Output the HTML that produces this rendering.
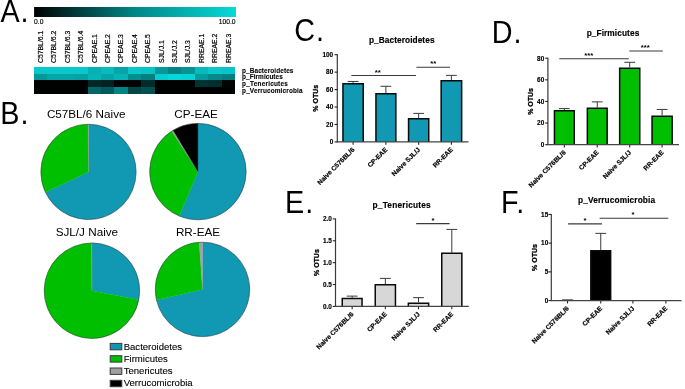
<!DOCTYPE html>
<html><head><meta charset="utf-8"><title>Figure</title>
<style>html,body{margin:0;padding:0;background:#fff}svg{display:block;will-change:transform}text{font-family:"Liberation Sans",sans-serif}</style>
</head><body>
<svg width="685" height="389" viewBox="0 0 685 389">
<rect width="685" height="389" fill="#fff"/>
<text transform="translate(0.4,21.5) scale(0.94,1)" letter-spacing="1.1" font-size="30.6" font-family="Liberation Sans, sans-serif" fill="#000">A.</text>
<text transform="translate(0.3,124.1) scale(0.94,1)" letter-spacing="1.1" font-size="30.6" font-family="Liberation Sans, sans-serif" fill="#000">B.</text>
<text transform="translate(294.2,40.7) scale(0.94,1)" letter-spacing="1.1" font-size="30.6" font-family="Liberation Sans, sans-serif" fill="#000">C.</text>
<text transform="translate(491.7,42.7) scale(0.94,1)" letter-spacing="1.1" font-size="30.6" font-family="Liberation Sans, sans-serif" fill="#000">D.</text>
<text transform="translate(285.1,212.9) scale(0.94,1)" letter-spacing="1.1" font-size="30.6" font-family="Liberation Sans, sans-serif" fill="#000">E.</text>
<text transform="translate(500.9,212.9) scale(0.94,1)" letter-spacing="1.1" font-size="30.6" font-family="Liberation Sans, sans-serif" fill="#000">F.</text>
<defs><linearGradient id="cb" x1="0" x2="1" y1="0" y2="0"><stop offset="0" stop-color="#000"/><stop offset="0.15" stop-color="rgb(0,42,42)"/><stop offset="0.5" stop-color="rgb(0,135,135)"/><stop offset="1" stop-color="rgb(5,218,215)"/></linearGradient></defs>
<rect x="34.1" y="7" width="201.9" height="10" fill="url(#cb)"/>
<text x="34.1" y="23.6" font-size="6.7" stroke="#000" stroke-width="0.15" font-family="Liberation Sans, sans-serif">0.0</text>
 <text x="235.6" y="23.6" font-size="6.7" stroke="#000" stroke-width="0.15" text-anchor="end" font-family="Liberation Sans, sans-serif">100.0</text>
<rect x="34.10" y="66.85" width="13.69" height="6.97" fill="rgb(8,200,203)" shape-rendering="crispEdges"/>
<rect x="47.49" y="66.85" width="13.69" height="6.97" fill="rgb(8,200,203)" shape-rendering="crispEdges"/>
<rect x="60.89" y="66.85" width="13.69" height="6.97" fill="rgb(8,200,203)" shape-rendering="crispEdges"/>
<rect x="74.28" y="66.85" width="13.69" height="6.97" fill="rgb(8,200,203)" shape-rendering="crispEdges"/>
<rect x="87.67" y="66.85" width="13.69" height="6.97" fill="rgb(7,176,178)" shape-rendering="crispEdges"/>
<rect x="101.07" y="66.85" width="13.69" height="6.97" fill="rgb(7,188,190)" shape-rendering="crispEdges"/>
<rect x="114.46" y="66.85" width="13.69" height="6.97" fill="rgb(6,166,168)" shape-rendering="crispEdges"/>
<rect x="127.85" y="66.85" width="13.69" height="6.97" fill="rgb(8,200,203)" shape-rendering="crispEdges"/>
<rect x="141.25" y="66.85" width="13.69" height="6.97" fill="rgb(8,196,198)" shape-rendering="crispEdges"/>
<rect x="154.64" y="66.85" width="13.69" height="6.97" fill="rgb(6,151,153)" shape-rendering="crispEdges"/>
<rect x="168.03" y="66.85" width="13.69" height="6.97" fill="rgb(5,132,133)" shape-rendering="crispEdges"/>
<rect x="181.43" y="66.85" width="13.69" height="6.97" fill="rgb(6,147,148)" shape-rendering="crispEdges"/>
<rect x="194.82" y="66.85" width="13.69" height="6.97" fill="rgb(7,186,188)" shape-rendering="crispEdges"/>
<rect x="208.21" y="66.85" width="13.69" height="6.97" fill="rgb(8,200,203)" shape-rendering="crispEdges"/>
<rect x="221.61" y="66.85" width="13.69" height="6.97" fill="rgb(8,196,198)" shape-rendering="crispEdges"/>
<rect x="34.10" y="73.52" width="13.69" height="6.97" fill="rgb(6,151,153)" shape-rendering="crispEdges"/>
<rect x="47.49" y="73.52" width="13.69" height="6.97" fill="rgb(6,166,168)" shape-rendering="crispEdges"/>
<rect x="60.89" y="73.52" width="13.69" height="6.97" fill="rgb(6,166,168)" shape-rendering="crispEdges"/>
<rect x="74.28" y="73.52" width="13.69" height="6.97" fill="rgb(6,161,163)" shape-rendering="crispEdges"/>
<rect x="87.67" y="73.52" width="13.69" height="6.97" fill="rgb(7,181,183)" shape-rendering="crispEdges"/>
<rect x="101.07" y="73.52" width="13.69" height="6.97" fill="rgb(6,166,168)" shape-rendering="crispEdges"/>
<rect x="114.46" y="73.52" width="13.69" height="6.97" fill="rgb(7,181,183)" shape-rendering="crispEdges"/>
<rect x="127.85" y="73.52" width="13.69" height="6.97" fill="rgb(5,142,143)" shape-rendering="crispEdges"/>
<rect x="141.25" y="73.52" width="13.69" height="6.97" fill="rgb(5,127,128)" shape-rendering="crispEdges"/>
<rect x="154.64" y="73.52" width="13.69" height="6.97" fill="rgb(8,205,208)" shape-rendering="crispEdges"/>
<rect x="168.03" y="73.52" width="13.69" height="6.97" fill="rgb(8,215,218)" shape-rendering="crispEdges"/>
<rect x="181.43" y="73.52" width="13.69" height="6.97" fill="rgb(8,210,213)" shape-rendering="crispEdges"/>
<rect x="194.82" y="73.52" width="13.69" height="6.97" fill="rgb(6,156,158)" shape-rendering="crispEdges"/>
<rect x="208.21" y="73.52" width="13.69" height="6.97" fill="rgb(5,137,138)" shape-rendering="crispEdges"/>
<rect x="221.61" y="73.52" width="13.69" height="6.97" fill="rgb(5,127,128)" shape-rendering="crispEdges"/>
<rect x="34.10" y="80.19" width="13.69" height="6.97" fill="rgb(0,2,2)" shape-rendering="crispEdges"/>
<rect x="47.49" y="80.19" width="13.69" height="6.97" fill="rgb(0,2,2)" shape-rendering="crispEdges"/>
<rect x="60.89" y="80.19" width="13.69" height="6.97" fill="rgb(0,2,2)" shape-rendering="crispEdges"/>
<rect x="74.28" y="80.19" width="13.69" height="6.97" fill="rgb(0,2,2)" shape-rendering="crispEdges"/>
<rect x="87.67" y="80.19" width="13.69" height="6.97" fill="rgb(1,39,39)" shape-rendering="crispEdges"/>
<rect x="101.07" y="80.19" width="13.69" height="6.97" fill="rgb(1,34,34)" shape-rendering="crispEdges"/>
<rect x="114.46" y="80.19" width="13.69" height="6.97" fill="rgb(0,4,4)" shape-rendering="crispEdges"/>
<rect x="127.85" y="80.19" width="13.69" height="6.97" fill="rgb(0,4,4)" shape-rendering="crispEdges"/>
<rect x="141.25" y="80.19" width="13.69" height="6.97" fill="rgb(1,44,44)" shape-rendering="crispEdges"/>
<rect x="154.64" y="80.19" width="13.69" height="6.97" fill="rgb(0,2,2)" shape-rendering="crispEdges"/>
<rect x="168.03" y="80.19" width="13.69" height="6.97" fill="rgb(0,2,2)" shape-rendering="crispEdges"/>
<rect x="181.43" y="80.19" width="13.69" height="6.97" fill="rgb(0,2,2)" shape-rendering="crispEdges"/>
<rect x="194.82" y="80.19" width="13.69" height="6.97" fill="rgb(2,51,52)" shape-rendering="crispEdges"/>
<rect x="208.21" y="80.19" width="13.69" height="6.97" fill="rgb(1,46,47)" shape-rendering="crispEdges"/>
<rect x="221.61" y="80.19" width="13.69" height="6.97" fill="rgb(0,4,4)" shape-rendering="crispEdges"/>
<rect x="34.10" y="86.86" width="13.69" height="6.97" fill="rgb(0,2,2)" shape-rendering="crispEdges"/>
<rect x="47.49" y="86.86" width="13.69" height="6.97" fill="rgb(0,2,2)" shape-rendering="crispEdges"/>
<rect x="60.89" y="86.86" width="13.69" height="6.97" fill="rgb(0,2,2)" shape-rendering="crispEdges"/>
<rect x="74.28" y="86.86" width="13.69" height="6.97" fill="rgb(0,2,2)" shape-rendering="crispEdges"/>
<rect x="87.67" y="86.86" width="13.69" height="6.97" fill="rgb(4,102,104)" shape-rendering="crispEdges"/>
<rect x="101.07" y="86.86" width="13.69" height="6.97" fill="rgb(3,88,89)" shape-rendering="crispEdges"/>
<rect x="114.46" y="86.86" width="13.69" height="6.97" fill="rgb(5,132,133)" shape-rendering="crispEdges"/>
<rect x="127.85" y="86.86" width="13.69" height="6.97" fill="rgb(2,71,71)" shape-rendering="crispEdges"/>
<rect x="141.25" y="86.86" width="13.69" height="6.97" fill="rgb(3,80,81)" shape-rendering="crispEdges"/>
<rect x="154.64" y="86.86" width="13.69" height="6.97" fill="rgb(0,2,2)" shape-rendering="crispEdges"/>
<rect x="168.03" y="86.86" width="13.69" height="6.97" fill="rgb(0,2,2)" shape-rendering="crispEdges"/>
<rect x="181.43" y="86.86" width="13.69" height="6.97" fill="rgb(0,2,2)" shape-rendering="crispEdges"/>
<rect x="194.82" y="86.86" width="13.69" height="6.97" fill="rgb(0,2,2)" shape-rendering="crispEdges"/>
<rect x="208.21" y="86.86" width="13.69" height="6.97" fill="rgb(0,2,2)" shape-rendering="crispEdges"/>
<rect x="221.61" y="86.86" width="13.69" height="6.97" fill="rgb(0,2,2)" shape-rendering="crispEdges"/>
<text transform="translate(43.10,63) rotate(-90)" font-size="6.85" stroke="#000" stroke-width="0.2" font-family="Liberation Sans, sans-serif">C57BL/6.1</text>
<text transform="translate(56.49,63) rotate(-90)" font-size="6.85" stroke="#000" stroke-width="0.2" font-family="Liberation Sans, sans-serif">C57BL/6.2</text>
<text transform="translate(69.88,63) rotate(-90)" font-size="6.85" stroke="#000" stroke-width="0.2" font-family="Liberation Sans, sans-serif">C57BL/6.3</text>
<text transform="translate(83.28,63) rotate(-90)" font-size="6.85" stroke="#000" stroke-width="0.2" font-family="Liberation Sans, sans-serif">C57BL/6.4</text>
<text transform="translate(96.67,63) rotate(-90)" font-size="6.85" stroke="#000" stroke-width="0.2" font-family="Liberation Sans, sans-serif">CPEAE.1</text>
<text transform="translate(110.06,63) rotate(-90)" font-size="6.85" stroke="#000" stroke-width="0.2" font-family="Liberation Sans, sans-serif">CPEAE.2</text>
<text transform="translate(123.46,63) rotate(-90)" font-size="6.85" stroke="#000" stroke-width="0.2" font-family="Liberation Sans, sans-serif">CPEAE.3</text>
<text transform="translate(136.85,63) rotate(-90)" font-size="6.85" stroke="#000" stroke-width="0.2" font-family="Liberation Sans, sans-serif">CPEAE.4</text>
<text transform="translate(150.24,63) rotate(-90)" font-size="6.85" stroke="#000" stroke-width="0.2" font-family="Liberation Sans, sans-serif">CPEAE.5</text>
<text transform="translate(163.64,63) rotate(-90)" font-size="6.85" stroke="#000" stroke-width="0.2" font-family="Liberation Sans, sans-serif">SJL/J.1</text>
<text transform="translate(177.03,63) rotate(-90)" font-size="6.85" stroke="#000" stroke-width="0.2" font-family="Liberation Sans, sans-serif">SJL/J.2</text>
<text transform="translate(190.42,63) rotate(-90)" font-size="6.85" stroke="#000" stroke-width="0.2" font-family="Liberation Sans, sans-serif">SJL/J.3</text>
<text transform="translate(203.82,63) rotate(-90)" font-size="6.85" stroke="#000" stroke-width="0.2" font-family="Liberation Sans, sans-serif">RREAE.1</text>
<text transform="translate(217.21,63) rotate(-90)" font-size="6.85" stroke="#000" stroke-width="0.2" font-family="Liberation Sans, sans-serif">RREAE.2</text>
<text transform="translate(230.60,63) rotate(-90)" font-size="6.85" stroke="#000" stroke-width="0.2" font-family="Liberation Sans, sans-serif">RREAE.3</text>
<text x="242.1" y="72.70" font-size="6.45" font-weight="bold" stroke="#000" stroke-width="0.1" textLength="51.3" lengthAdjust="spacing" font-family="Liberation Sans, sans-serif">p_Bacteroidetes</text>
<text x="242.1" y="79.43" font-size="6.45" font-weight="bold" stroke="#000" stroke-width="0.1" textLength="40.7" lengthAdjust="spacing" font-family="Liberation Sans, sans-serif">p_Firmicutes</text>
<text x="242.1" y="86.16" font-size="6.45" font-weight="bold" stroke="#000" stroke-width="0.1" textLength="45.7" lengthAdjust="spacing" font-family="Liberation Sans, sans-serif">p_Tenericutes</text>
<text x="242.1" y="92.89" font-size="6.45" font-weight="bold" stroke="#000" stroke-width="0.1" textLength="60.4" lengthAdjust="spacing" font-family="Liberation Sans, sans-serif">p_Verrucomicrobia</text>
<path d="M88.5,171.9 L88.50,124.30 A47.6,47.6 0 1 1 45.43,192.17 Z" fill="#1198b2" stroke="#1198b2" stroke-width="0.3"/>
<path d="M88.5,171.9 L45.43,192.17 A47.6,47.6 0 0 1 88.05,124.30 Z" fill="#00be00" stroke="#00be00" stroke-width="0.3"/>
<path d="M88.5,171.9 L88.05,124.30 A47.6,47.6 0 0 1 88.50,124.30 Z" fill="#a0a0a4" stroke="#a0a0a4" stroke-width="0.3"/>
<circle cx="88.5" cy="171.9" r="47.6" fill="none" stroke="#333" stroke-width="0.5"/>
<path d="M197.9,171.6 L197.90,123.40 A48.2,48.2 0 1 1 179.31,216.07 Z" fill="#1198b2" stroke="#1198b2" stroke-width="0.3"/>
<path d="M197.9,171.6 L179.31,216.07 A48.2,48.2 0 0 1 171.82,131.07 Z" fill="#00be00" stroke="#00be00" stroke-width="0.3"/>
<path d="M197.9,171.6 L171.82,131.07 A48.2,48.2 0 0 1 173.10,130.27 Z" fill="#a0a0a4" stroke="#a0a0a4" stroke-width="0.3"/>
<path d="M197.9,171.6 L173.10,130.27 A48.2,48.2 0 0 1 197.90,123.40 Z" fill="#000" stroke="#000" stroke-width="0.3"/>
<circle cx="197.9" cy="171.6" r="48.2" fill="none" stroke="#333" stroke-width="0.5"/>
<path d="M91.9,290.7 L91.90,243.00 A47.7,47.7 0 0 1 138.76,299.64 Z" fill="#1198b2" stroke="#1198b2" stroke-width="0.3"/>
<path d="M91.9,290.7 L138.76,299.64 A47.7,47.7 0 1 1 91.60,243.00 Z" fill="#00be00" stroke="#00be00" stroke-width="0.3"/>
<path d="M91.9,290.7 L91.60,243.00 A47.7,47.7 0 0 1 91.90,243.00 Z" fill="#a0a0a4" stroke="#a0a0a4" stroke-width="0.3"/>
<circle cx="91.9" cy="290.7" r="47.7" fill="none" stroke="#333" stroke-width="0.5"/>
<path d="M202.5,289.4 L202.50,242.20 A47.2,47.2 0 1 1 156.50,299.99 Z" fill="#1198b2" stroke="#1198b2" stroke-width="0.3"/>
<path d="M202.5,289.4 L156.50,299.99 A47.2,47.2 0 0 1 199.24,242.31 Z" fill="#00be00" stroke="#00be00" stroke-width="0.3"/>
<path d="M202.5,289.4 L199.24,242.31 A47.2,47.2 0 0 1 202.50,242.20 Z" fill="#a0a0a4" stroke="#a0a0a4" stroke-width="0.3"/>
<circle cx="202.5" cy="289.4" r="47.2" fill="none" stroke="#333" stroke-width="0.5"/>
<text x="86.2" y="117.7" font-size="11.7" text-anchor="middle" font-family="Liberation Sans, sans-serif">C57BL/6 Naive</text>
<text x="196.1" y="117.7" font-size="11.7" text-anchor="middle" font-family="Liberation Sans, sans-serif">CP-EAE</text>
<text x="86.9" y="235.7" font-size="11.7" text-anchor="middle" font-family="Liberation Sans, sans-serif">SJL/J Naive</text>
<text x="198" y="235.7" font-size="11.7" text-anchor="middle" font-family="Liberation Sans, sans-serif">RR-EAE</text>
<rect x="110.2" y="343.40" width="11.6" height="6.4" fill="#1198b2" stroke="#3a3a3a" stroke-width="1"/>
<text x="123.7" y="349.70" font-size="9.55" stroke="#000" stroke-width="0.1" font-family="Liberation Sans, sans-serif">Bacteroidetes</text>
<rect x="110.2" y="355.70" width="11.6" height="6.4" fill="#00be00" stroke="#3a3a3a" stroke-width="1"/>
<text x="123.7" y="361.70" font-size="9.55" stroke="#000" stroke-width="0.1" font-family="Liberation Sans, sans-serif">Firmicutes</text>
<rect x="110.2" y="368.00" width="11.6" height="6.4" fill="#a0a0a4" stroke="#3a3a3a" stroke-width="1"/>
<text x="123.7" y="374.10" font-size="9.55" stroke="#000" stroke-width="0.1" font-family="Liberation Sans, sans-serif">Tenericutes</text>
<rect x="110.2" y="380.30" width="11.6" height="6.4" fill="#000" stroke="#3a3a3a" stroke-width="1"/>
<text x="123.7" y="386.40" font-size="9.55" stroke="#000" stroke-width="0.1" font-family="Liberation Sans, sans-serif">Verrucomicrobia</text>
<text x="368.90" y="43.3" font-size="8.3" font-weight="bold" stroke="#000" stroke-width="0.15" textLength="65.6" lengthAdjust="spacing" font-family="Liberation Sans, sans-serif">p_Bacteroidetes</text>
<line x1="337.3" y1="54.300000000000004" x2="337.3" y2="142.3" stroke="#3a3a3a" stroke-width="1.2"/>
<line x1="334.6" y1="141.90" x2="337.3" y2="141.90" stroke="#222" stroke-width="1.1"/>
<text x="333.2" y="144.20"  font-size="6.4" font-weight="bold" stroke="#000" stroke-width="0.15" text-anchor="end" font-family="Liberation Sans, sans-serif">0</text>
<line x1="334.6" y1="124.46" x2="337.3" y2="124.46" stroke="#222" stroke-width="1.1"/>
<text x="333.2" y="126.76"  font-size="6.4" font-weight="bold" stroke="#000" stroke-width="0.15" text-anchor="end" font-family="Liberation Sans, sans-serif">20</text>
<line x1="334.6" y1="107.02" x2="337.3" y2="107.02" stroke="#222" stroke-width="1.1"/>
<text x="333.2" y="109.32"  font-size="6.4" font-weight="bold" stroke="#000" stroke-width="0.15" text-anchor="end" font-family="Liberation Sans, sans-serif">40</text>
<line x1="334.6" y1="89.58" x2="337.3" y2="89.58" stroke="#222" stroke-width="1.1"/>
<text x="333.2" y="91.88"  font-size="6.4" font-weight="bold" stroke="#000" stroke-width="0.15" text-anchor="end" font-family="Liberation Sans, sans-serif">60</text>
<line x1="334.6" y1="72.14" x2="337.3" y2="72.14" stroke="#222" stroke-width="1.1"/>
<text x="333.2" y="74.44"  font-size="6.4" font-weight="bold" stroke="#000" stroke-width="0.15" text-anchor="end" font-family="Liberation Sans, sans-serif">80</text>
<line x1="334.6" y1="54.70" x2="337.3" y2="54.70" stroke="#222" stroke-width="1.1"/>
<text x="333.2" y="57.00"  font-size="6.4" font-weight="bold" stroke="#000" stroke-width="0.15" text-anchor="end" font-family="Liberation Sans, sans-serif">100</text>
<text transform="translate(318,98.3) rotate(-90)" font-size="7" font-weight="bold" stroke="#000" stroke-width="0.32" text-anchor="middle" font-family="Liberation Sans, sans-serif">% OTUs</text>
<line x1="353.10" y1="81.47" x2="353.10" y2="83.04" stroke="#3a3a3a" stroke-width="1"/>
<line x1="347.70" y1="81.47" x2="358.50" y2="81.47" stroke="#3a3a3a" stroke-width="1"/>
<rect x="342.90" y="83.74" width="20.40" height="58.16" fill="#1198b2"/>
<path d="M342.95,141.9 V83.79 H363.25 V141.9" fill="none" stroke="#0a0a0a" stroke-width="1.5"/>
<line x1="353.10" y1="141.9" x2="353.10" y2="144.8" stroke="#2a2a2a" stroke-width="1.1"/>
<text transform="translate(355.00,150.20000000000002) rotate(-45)" font-size="6.6" font-weight="bold" stroke="#000" stroke-width="0.2" text-anchor="end" font-family="Liberation Sans, sans-serif">Naive C576BL/6</text>
<line x1="385.90" y1="86.27" x2="385.90" y2="93.07" stroke="#3a3a3a" stroke-width="1"/>
<line x1="380.50" y1="86.27" x2="391.30" y2="86.27" stroke="#3a3a3a" stroke-width="1"/>
<rect x="375.90" y="93.77" width="20.00" height="48.13" fill="#1198b2"/>
<path d="M375.95,141.9 V93.82 H395.85 V141.9" fill="none" stroke="#0a0a0a" stroke-width="1.5"/>
<line x1="385.90" y1="141.9" x2="385.90" y2="144.8" stroke="#2a2a2a" stroke-width="1.1"/>
<text transform="translate(387.80,150.20000000000002) rotate(-45)" font-size="6.6" font-weight="bold" stroke="#000" stroke-width="0.2" text-anchor="end" font-family="Liberation Sans, sans-serif">CP-EAE</text>
<line x1="418.65" y1="113.39" x2="418.65" y2="117.92" stroke="#3a3a3a" stroke-width="1"/>
<line x1="413.25" y1="113.39" x2="424.05" y2="113.39" stroke="#3a3a3a" stroke-width="1"/>
<rect x="408.50" y="118.62" width="20.30" height="23.28" fill="#1198b2"/>
<path d="M408.55,141.9 V118.67 H428.75 V141.9" fill="none" stroke="#0a0a0a" stroke-width="1.5"/>
<line x1="418.65" y1="141.9" x2="418.65" y2="144.8" stroke="#2a2a2a" stroke-width="1.1"/>
<text transform="translate(420.55,150.20000000000002) rotate(-45)" font-size="6.6" font-weight="bold" stroke="#000" stroke-width="0.2" text-anchor="end" font-family="Liberation Sans, sans-serif">Naive SJL/J</text>
<line x1="451.40" y1="75.37" x2="451.40" y2="79.99" stroke="#3a3a3a" stroke-width="1"/>
<line x1="446.00" y1="75.37" x2="456.80" y2="75.37" stroke="#3a3a3a" stroke-width="1"/>
<rect x="441.10" y="80.69" width="20.60" height="61.21" fill="#1198b2"/>
<path d="M441.15,141.9 V80.74 H461.65 V141.9" fill="none" stroke="#0a0a0a" stroke-width="1.5"/>
<line x1="451.40" y1="141.9" x2="451.40" y2="144.8" stroke="#2a2a2a" stroke-width="1.1"/>
<text transform="translate(453.30,150.20000000000002) rotate(-45)" font-size="6.6" font-weight="bold" stroke="#000" stroke-width="0.2" text-anchor="end" font-family="Liberation Sans, sans-serif">RR-EAE</text>
<line x1="336.7" y1="141.9" x2="468.5" y2="141.9" stroke="#444" stroke-width="1.3"/>
<line x1="351.4" y1="75.5" x2="416" y2="75.5" stroke="#3a3a3a" stroke-width="1.1"/>
<text x="377.7" y="74.5" font-size="7.8" font-weight="bold" text-anchor="middle" font-family="Liberation Sans, sans-serif">**</text>
<line x1="416.4" y1="67.3" x2="450" y2="67.3" stroke="#3a3a3a" stroke-width="1.1"/>
<text x="433.2" y="66.3" font-size="7.8" font-weight="bold" text-anchor="middle" font-family="Liberation Sans, sans-serif">**</text>
<text x="586.65" y="36" font-size="8.3" font-weight="bold" stroke="#000" stroke-width="0.15" textLength="52.6" lengthAdjust="spacing" font-family="Liberation Sans, sans-serif">p_Firmicutes</text>
<line x1="547.9" y1="57.800000000000004" x2="547.9" y2="145.1" stroke="#3a3a3a" stroke-width="1.2"/>
<line x1="545.1999999999999" y1="144.70" x2="547.9" y2="144.70" stroke="#222" stroke-width="1.1"/>
<text x="544.1999999999999" y="147.00"  font-size="6.4" font-weight="bold" stroke="#000" stroke-width="0.15" text-anchor="end" font-family="Liberation Sans, sans-serif">0</text>
<line x1="545.1999999999999" y1="123.07" x2="547.9" y2="123.07" stroke="#222" stroke-width="1.1"/>
<text x="544.1999999999999" y="125.37"  font-size="6.4" font-weight="bold" stroke="#000" stroke-width="0.15" text-anchor="end" font-family="Liberation Sans, sans-serif">20</text>
<line x1="545.1999999999999" y1="101.45" x2="547.9" y2="101.45" stroke="#222" stroke-width="1.1"/>
<text x="544.1999999999999" y="103.75"  font-size="6.4" font-weight="bold" stroke="#000" stroke-width="0.15" text-anchor="end" font-family="Liberation Sans, sans-serif">40</text>
<line x1="545.1999999999999" y1="79.83" x2="547.9" y2="79.83" stroke="#222" stroke-width="1.1"/>
<text x="544.1999999999999" y="82.12"  font-size="6.4" font-weight="bold" stroke="#000" stroke-width="0.15" text-anchor="end" font-family="Liberation Sans, sans-serif">60</text>
<line x1="545.1999999999999" y1="58.20" x2="547.9" y2="58.20" stroke="#222" stroke-width="1.1"/>
<text x="544.1999999999999" y="60.50"  font-size="6.4" font-weight="bold" stroke="#000" stroke-width="0.15" text-anchor="end" font-family="Liberation Sans, sans-serif">80</text>
<text transform="translate(533,101.4) rotate(-90)" font-size="7" font-weight="bold" stroke="#000" stroke-width="0.32" text-anchor="middle" font-family="Liberation Sans, sans-serif">% OTUs</text>
<line x1="564.35" y1="108.59" x2="564.35" y2="110.10" stroke="#3a3a3a" stroke-width="1"/>
<line x1="558.95" y1="108.59" x2="569.75" y2="108.59" stroke="#3a3a3a" stroke-width="1"/>
<rect x="554.40" y="110.80" width="19.90" height="33.90" fill="#00be00"/>
<path d="M554.45,144.7 V110.85 H574.25 V144.7" fill="none" stroke="#0a0a0a" stroke-width="1.5"/>
<line x1="564.35" y1="144.7" x2="564.35" y2="147.6" stroke="#2a2a2a" stroke-width="1.1"/>
<text transform="translate(566.25,153.0) rotate(-45)" font-size="6.6" font-weight="bold" stroke="#000" stroke-width="0.2" text-anchor="end" font-family="Liberation Sans, sans-serif">Naive C576BL/6</text>
<line x1="597.25" y1="101.88" x2="597.25" y2="107.61" stroke="#3a3a3a" stroke-width="1"/>
<line x1="591.85" y1="101.88" x2="602.65" y2="101.88" stroke="#3a3a3a" stroke-width="1"/>
<rect x="587.30" y="108.31" width="19.90" height="36.39" fill="#00be00"/>
<path d="M587.35,144.7 V108.36 H607.15 V144.7" fill="none" stroke="#0a0a0a" stroke-width="1.5"/>
<line x1="597.25" y1="144.7" x2="597.25" y2="147.6" stroke="#2a2a2a" stroke-width="1.1"/>
<text transform="translate(599.15,153.0) rotate(-45)" font-size="6.6" font-weight="bold" stroke="#000" stroke-width="0.2" text-anchor="end" font-family="Liberation Sans, sans-serif">CP-EAE</text>
<line x1="629.70" y1="62.31" x2="629.70" y2="67.39" stroke="#3a3a3a" stroke-width="1"/>
<line x1="624.30" y1="62.31" x2="635.10" y2="62.31" stroke="#3a3a3a" stroke-width="1"/>
<rect x="619.60" y="68.09" width="20.20" height="76.61" fill="#00be00"/>
<path d="M619.65,144.7 V68.14 H639.75 V144.7" fill="none" stroke="#0a0a0a" stroke-width="1.5"/>
<line x1="629.70" y1="144.7" x2="629.70" y2="147.6" stroke="#2a2a2a" stroke-width="1.1"/>
<text transform="translate(631.60,153.0) rotate(-45)" font-size="6.6" font-weight="bold" stroke="#000" stroke-width="0.2" text-anchor="end" font-family="Liberation Sans, sans-serif">Naive SJL/J</text>
<line x1="662.10" y1="109.45" x2="662.10" y2="115.51" stroke="#3a3a3a" stroke-width="1"/>
<line x1="656.70" y1="109.45" x2="667.50" y2="109.45" stroke="#3a3a3a" stroke-width="1"/>
<rect x="652.00" y="116.21" width="20.20" height="28.49" fill="#00be00"/>
<path d="M652.05,144.7 V116.26 H672.15 V144.7" fill="none" stroke="#0a0a0a" stroke-width="1.5"/>
<line x1="662.10" y1="144.7" x2="662.10" y2="147.6" stroke="#2a2a2a" stroke-width="1.1"/>
<text transform="translate(664.00,153.0) rotate(-45)" font-size="6.6" font-weight="bold" stroke="#000" stroke-width="0.2" text-anchor="end" font-family="Liberation Sans, sans-serif">RR-EAE</text>
<line x1="547.3" y1="144.7" x2="679" y2="144.7" stroke="#444" stroke-width="1.3"/>
<line x1="559.3" y1="58.7" x2="628.8" y2="58.7" stroke="#3a3a3a" stroke-width="1.1"/>
<text x="588.8" y="57.7" font-size="7.8" font-weight="bold" text-anchor="middle" font-family="Liberation Sans, sans-serif">***</text>
<line x1="629.4" y1="51.0" x2="662.8" y2="51.0" stroke="#3a3a3a" stroke-width="1.1"/>
<text x="645.3" y="50.0" font-size="7.8" font-weight="bold" text-anchor="middle" font-family="Liberation Sans, sans-serif">***</text>
<text x="372.60" y="207.9" font-size="8.3" font-weight="bold" stroke="#000" stroke-width="0.15" textLength="58.1" lengthAdjust="spacing" font-family="Liberation Sans, sans-serif">p_Tenericutes</text>
<line x1="335.5" y1="218.5" x2="335.5" y2="306.79999999999995" stroke="#3a3a3a" stroke-width="1.2"/>
<line x1="332.8" y1="306.40" x2="335.5" y2="306.40" stroke="#222" stroke-width="1.1"/>
<text x="331.79999999999995" y="308.70"  font-size="6.4" font-weight="bold" stroke="#000" stroke-width="0.15" text-anchor="end" font-family="Liberation Sans, sans-serif">0.0</text>
<line x1="332.8" y1="284.52" x2="335.5" y2="284.52" stroke="#222" stroke-width="1.1"/>
<text x="331.79999999999995" y="286.82"  font-size="6.4" font-weight="bold" stroke="#000" stroke-width="0.15" text-anchor="end" font-family="Liberation Sans, sans-serif">0.5</text>
<line x1="332.8" y1="262.65" x2="335.5" y2="262.65" stroke="#222" stroke-width="1.1"/>
<text x="331.79999999999995" y="264.95"  font-size="6.4" font-weight="bold" stroke="#000" stroke-width="0.15" text-anchor="end" font-family="Liberation Sans, sans-serif">1.0</text>
<line x1="332.8" y1="240.78" x2="335.5" y2="240.78" stroke="#222" stroke-width="1.1"/>
<text x="331.79999999999995" y="243.08"  font-size="6.4" font-weight="bold" stroke="#000" stroke-width="0.15" text-anchor="end" font-family="Liberation Sans, sans-serif">1.5</text>
<line x1="332.8" y1="218.90" x2="335.5" y2="218.90" stroke="#222" stroke-width="1.1"/>
<text x="331.79999999999995" y="221.20"  font-size="6.4" font-weight="bold" stroke="#000" stroke-width="0.15" text-anchor="end" font-family="Liberation Sans, sans-serif">2.0</text>
<text transform="translate(319,262.6) rotate(-90)" font-size="7" font-weight="bold" stroke="#000" stroke-width="0.32" text-anchor="middle" font-family="Liberation Sans, sans-serif">% OTUs</text>
<line x1="352.15" y1="296.12" x2="352.15" y2="297.87" stroke="#3a3a3a" stroke-width="1"/>
<line x1="346.75" y1="296.12" x2="357.55" y2="296.12" stroke="#3a3a3a" stroke-width="1"/>
<rect x="342.20" y="298.57" width="19.90" height="7.83" fill="#d7d7d7"/>
<path d="M342.25,306.4 V298.62 H362.05 V306.4" fill="none" stroke="#0a0a0a" stroke-width="1.5"/>
<line x1="352.15" y1="306.4" x2="352.15" y2="309.29999999999995" stroke="#2a2a2a" stroke-width="1.1"/>
<text transform="translate(354.05,314.7) rotate(-45)" font-size="6.6" font-weight="bold" stroke="#000" stroke-width="0.2" text-anchor="end" font-family="Liberation Sans, sans-serif">Naive C576BL/6</text>
<line x1="385.35" y1="278.40" x2="385.35" y2="284.09" stroke="#3a3a3a" stroke-width="1"/>
<line x1="379.95" y1="278.40" x2="390.75" y2="278.40" stroke="#3a3a3a" stroke-width="1"/>
<rect x="375.20" y="284.79" width="20.30" height="21.61" fill="#d7d7d7"/>
<path d="M375.25,306.4 V284.84 H395.45 V306.4" fill="none" stroke="#0a0a0a" stroke-width="1.5"/>
<line x1="385.35" y1="306.4" x2="385.35" y2="309.29999999999995" stroke="#2a2a2a" stroke-width="1.1"/>
<text transform="translate(387.25,314.7) rotate(-45)" font-size="6.6" font-weight="bold" stroke="#000" stroke-width="0.2" text-anchor="end" font-family="Liberation Sans, sans-serif">CP-EAE</text>
<line x1="418.50" y1="297.65" x2="418.50" y2="302.46" stroke="#3a3a3a" stroke-width="1"/>
<line x1="413.10" y1="297.65" x2="423.90" y2="297.65" stroke="#3a3a3a" stroke-width="1"/>
<rect x="408.30" y="303.16" width="20.40" height="3.24" fill="#d7d7d7"/>
<path d="M408.35,306.4 V303.21 H428.65 V306.4" fill="none" stroke="#0a0a0a" stroke-width="1.5"/>
<line x1="418.50" y1="306.4" x2="418.50" y2="309.29999999999995" stroke="#2a2a2a" stroke-width="1.1"/>
<text transform="translate(420.40,314.7) rotate(-45)" font-size="6.6" font-weight="bold" stroke="#000" stroke-width="0.2" text-anchor="end" font-family="Liberation Sans, sans-serif">Naive SJL/J</text>
<line x1="451.80" y1="229.40" x2="451.80" y2="252.59" stroke="#3a3a3a" stroke-width="1"/>
<line x1="446.40" y1="229.40" x2="457.20" y2="229.40" stroke="#3a3a3a" stroke-width="1"/>
<rect x="441.70" y="253.29" width="20.20" height="53.11" fill="#d7d7d7"/>
<path d="M441.75,306.4 V253.34 H461.85 V306.4" fill="none" stroke="#0a0a0a" stroke-width="1.5"/>
<line x1="451.80" y1="306.4" x2="451.80" y2="309.29999999999995" stroke="#2a2a2a" stroke-width="1.1"/>
<text transform="translate(453.70,314.7) rotate(-45)" font-size="6.6" font-weight="bold" stroke="#000" stroke-width="0.2" text-anchor="end" font-family="Liberation Sans, sans-serif">RR-EAE</text>
<line x1="334.9" y1="306.4" x2="468.8" y2="306.4" stroke="#444" stroke-width="1.3"/>
<line x1="416.2" y1="223.6" x2="449.6" y2="223.6" stroke="#3a3a3a" stroke-width="1.1"/>
<text x="432.9" y="222.6" font-size="7.8" font-weight="bold" text-anchor="middle" font-family="Liberation Sans, sans-serif">*</text>
<text x="578.10" y="203" font-size="8.3" font-weight="bold" stroke="#000" stroke-width="0.15" textLength="77" lengthAdjust="spacing" font-family="Liberation Sans, sans-serif">p_Verrucomicrobia</text>
<line x1="551.3" y1="214.0" x2="551.3" y2="301.0" stroke="#3a3a3a" stroke-width="1.2"/>
<line x1="548.5999999999999" y1="300.60" x2="551.3" y2="300.60" stroke="#222" stroke-width="1.1"/>
<text x="548.1999999999999" y="302.90"  font-size="6.4" font-weight="bold" stroke="#000" stroke-width="0.15" text-anchor="end" font-family="Liberation Sans, sans-serif">0</text>
<line x1="548.5999999999999" y1="271.87" x2="551.3" y2="271.87" stroke="#222" stroke-width="1.1"/>
<text x="548.1999999999999" y="274.17"  font-size="6.4" font-weight="bold" stroke="#000" stroke-width="0.15" text-anchor="end" font-family="Liberation Sans, sans-serif">5</text>
<line x1="548.5999999999999" y1="243.13" x2="551.3" y2="243.13" stroke="#222" stroke-width="1.1"/>
<text x="548.1999999999999" y="245.43"  font-size="6.4" font-weight="bold" stroke="#000" stroke-width="0.15" text-anchor="end" font-family="Liberation Sans, sans-serif">10</text>
<line x1="548.5999999999999" y1="214.40" x2="551.3" y2="214.40" stroke="#222" stroke-width="1.1"/>
<text x="548.1999999999999" y="216.70"  font-size="6.4" font-weight="bold" stroke="#000" stroke-width="0.15" text-anchor="end" font-family="Liberation Sans, sans-serif">15</text>
<text transform="translate(536.5,257.5) rotate(-90)" font-size="7" font-weight="bold" stroke="#000" stroke-width="0.32" text-anchor="middle" font-family="Liberation Sans, sans-serif">% OTUs</text>
<line x1="567.50" y1="299.85" x2="567.50" y2="300.60" stroke="#3a3a3a" stroke-width="1"/>
<line x1="562.10" y1="299.85" x2="572.90" y2="299.85" stroke="#3a3a3a" stroke-width="1"/>
<line x1="567.50" y1="300.6" x2="567.50" y2="303.5" stroke="#2a2a2a" stroke-width="1.1"/>
<text transform="translate(569.40,308.90000000000003) rotate(-45)" font-size="6.6" font-weight="bold" stroke="#000" stroke-width="0.2" text-anchor="end" font-family="Liberation Sans, sans-serif">Naive C576BL/6</text>
<line x1="600.75" y1="233.36" x2="600.75" y2="250.03" stroke="#3a3a3a" stroke-width="1"/>
<line x1="595.35" y1="233.36" x2="606.15" y2="233.36" stroke="#3a3a3a" stroke-width="1"/>
<rect x="590.80" y="250.73" width="19.90" height="49.87" fill="#000"/>
<path d="M590.85,300.6 V250.78 H610.65 V300.6" fill="none" stroke="#0a0a0a" stroke-width="1.5"/>
<line x1="600.75" y1="300.6" x2="600.75" y2="303.5" stroke="#2a2a2a" stroke-width="1.1"/>
<text transform="translate(602.65,308.90000000000003) rotate(-45)" font-size="6.6" font-weight="bold" stroke="#000" stroke-width="0.2" text-anchor="end" font-family="Liberation Sans, sans-serif">CP-EAE</text>
<line x1="632.90" y1="300.6" x2="632.90" y2="303.5" stroke="#2a2a2a" stroke-width="1.1"/>
<text transform="translate(634.80,308.90000000000003) rotate(-45)" font-size="6.6" font-weight="bold" stroke="#000" stroke-width="0.2" text-anchor="end" font-family="Liberation Sans, sans-serif">Naive SJL/J</text>
<line x1="665.90" y1="300.6" x2="665.90" y2="303.5" stroke="#2a2a2a" stroke-width="1.1"/>
<text transform="translate(667.80,308.90000000000003) rotate(-45)" font-size="6.6" font-weight="bold" stroke="#000" stroke-width="0.2" text-anchor="end" font-family="Liberation Sans, sans-serif">RR-EAE</text>
<line x1="550.6999999999999" y1="300.6" x2="681.6" y2="300.6" stroke="#444" stroke-width="1.3"/>
<line x1="568.1" y1="223.9" x2="602" y2="223.9" stroke="#3a3a3a" stroke-width="1.1"/>
<text x="585.05" y="222.9" font-size="7.8" font-weight="bold" text-anchor="middle" font-family="Liberation Sans, sans-serif">*</text>
<line x1="599.6" y1="218.2" x2="668.3" y2="218.2" stroke="#3a3a3a" stroke-width="1.1"/>
<text x="632.9" y="216.5" font-size="7.8" font-weight="bold" text-anchor="middle" font-family="Liberation Sans, sans-serif">*</text>
</svg>
</body></html>
